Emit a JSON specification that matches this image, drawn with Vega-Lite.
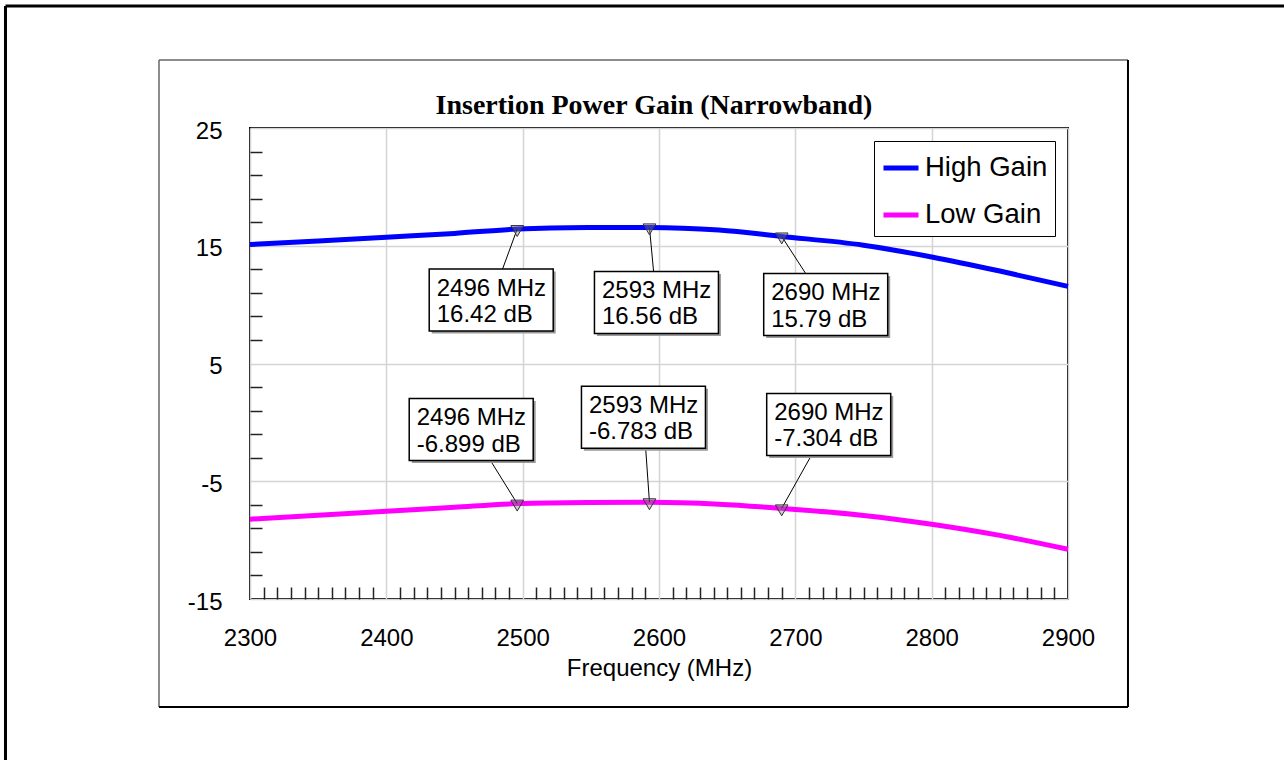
{
  "$schema": "https://vega.github.io/schema/vega-lite/v6.json",
  "width": 818,
  "height": 471,
  "autosize": {"type": "none"},
  "padding": {"left": 250, "top": 128, "right": 216, "bottom": 161},
  "background": "white",
  "datasets": {
    "curves": [
      {"series": "High Gain", "freq": 2300, "gain": 15.10},
      {"series": "High Gain", "freq": 2350, "gain": 15.40},
      {"series": "High Gain", "freq": 2400, "gain": 15.72},
      {"series": "High Gain", "freq": 2450, "gain": 16.05},
      {"series": "High Gain", "freq": 2496, "gain": 16.42},
      {"series": "High Gain", "freq": 2548, "gain": 16.55},
      {"series": "High Gain", "freq": 2593, "gain": 16.56},
      {"series": "High Gain", "freq": 2644, "gain": 16.33},
      {"series": "High Gain", "freq": 2690, "gain": 15.79},
      {"series": "High Gain", "freq": 2750, "gain": 15.05},
      {"series": "High Gain", "freq": 2800, "gain": 14.05},
      {"series": "High Gain", "freq": 2850, "gain": 12.85},
      {"series": "High Gain", "freq": 2900, "gain": 11.55},
      {"series": "Low Gain", "freq": 2300, "gain": -8.22},
      {"series": "Low Gain", "freq": 2350, "gain": -7.88},
      {"series": "Low Gain", "freq": 2400, "gain": -7.55},
      {"series": "Low Gain", "freq": 2450, "gain": -7.20},
      {"series": "Low Gain", "freq": 2496, "gain": -6.899},
      {"series": "Low Gain", "freq": 2548, "gain": -6.80},
      {"series": "Low Gain", "freq": 2593, "gain": -6.783},
      {"series": "Low Gain", "freq": 2644, "gain": -6.95},
      {"series": "Low Gain", "freq": 2690, "gain": -7.304},
      {"series": "Low Gain", "freq": 2750, "gain": -7.90},
      {"series": "Low Gain", "freq": 2800, "gain": -8.65},
      {"series": "Low Gain", "freq": 2850, "gain": -9.60},
      {"series": "Low Gain", "freq": 2900, "gain": -10.78}
    ],
    "markers": [
      {"series": "High Gain", "freq": 2496, "gain": 16.42, "label": "2496 MHz\n16.42 dB"},
      {"series": "High Gain", "freq": 2593, "gain": 16.56, "label": "2593 MHz\n16.56 dB"},
      {"series": "High Gain", "freq": 2690, "gain": 15.79, "label": "2690 MHz\n15.79 dB"},
      {"series": "Low Gain", "freq": 2496, "gain": -6.899, "label": "2496 MHz\n-6.899 dB"},
      {"series": "Low Gain", "freq": 2593, "gain": -6.783, "label": "2593 MHz\n-6.783 dB"},
      {"series": "Low Gain", "freq": 2690, "gain": -7.304, "label": "2690 MHz\n-7.304 dB"}
    ]
  },
  "title": {
    "text": "Insertion Power Gain (Narrowband)",
    "font": "Liberation Serif",
    "fontSize": 28,
    "fontWeight": "bold",
    "color": "black",
    "anchor": "middle",
    "frame": "group",
    "baseline": "alphabetic",
    "offset": 15,
    "dx": -5,
    "dy": 152
  },
  "config": {
    "view": {"stroke": "black", "strokeWidth": 2},
    "font": "Liberation Sans"
  },
  "layer": [
    {
      "encoding": {
        "x": {
          "field": "freq",
          "type": "quantitative",
          "scale": {"domain": [2300, 2900], "nice": false, "zero": false},
          "axis": {
            "orient": "bottom",
            "values": [2300,2310,2320,2330,2340,2350,2360,2370,2380,2390,2400,2410,2420,2430,2440,2450,2460,2470,2480,2490,2500,2510,2520,2530,2540,2550,2560,2570,2580,2590,2600,2610,2620,2630,2640,2650,2660,2670,2680,2690,2700,2710,2720,2730,2740,2750,2760,2770,2780,2790,2800,2810,2820,2830,2840,2850,2860,2870,2880,2890,2900],
            "tickCount": 200,
            "labelExpr": "datum.value % 100 === 0 ? '' + datum.value : ''",
            "labelFont": "Liberation Sans",
            "labelFontSize": 24,
            "labelColor": "black",
            "labelPadding": 39.5,
            "labelFlush": false,
            "labelOverlap": false,
            "labelBound": false,
            "domain": false,
            "tickSize": -12,
            "tickColor": "#222222",
            "tickWidth": 1.5,
            "tickOpacity": {"condition": {"test": "datum.value % 100 === 0", "value": 0}, "value": 1},
            "grid": true,
            "gridColor": "#d4d4d4",
            "gridWidth": 1.5,
            "gridOpacity": {"condition": {"test": "datum.value % 100 === 0", "value": 1}, "value": 0},
            "title": "Frequency (MHz)",
            "titleFont": "Liberation Sans",
            "titleFontSize": 24,
            "titleFontWeight": "normal",
            "titleColor": "black",
            "titlePadding": 6
          }
        },
        "y": {
          "field": "gain",
          "type": "quantitative",
          "scale": {"domain": [-15, 25], "nice": false, "zero": false},
          "axis": {
            "orient": "left",
            "values": [-15,-13,-11,-9,-7,-5,-3,-1,1,3,5,7,9,11,13,15,17,19,21,23,25],
            "tickCount": 200,
            "labelExpr": "(datum.value + 15) % 10 === 0 ? '' + datum.value : ''",
            "labelFont": "Liberation Sans",
            "labelFontSize": 24,
            "labelColor": "black",
            "labelPadding": 40,
            "labelOffset": 3,
            "labelFlush": false,
            "labelOverlap": false,
            "labelBound": false,
            "domain": false,
            "tickSize": -12,
            "tickColor": "#222222",
            "tickWidth": 1.5,
            "tickOpacity": {"condition": {"test": "(datum.value + 15) % 10 === 0", "value": 0}, "value": 1},
            "grid": true,
            "gridColor": "#d4d4d4",
            "gridWidth": 1.5,
            "gridOpacity": {"condition": {"test": "(datum.value + 15) % 10 === 0", "value": 1}, "value": 0},
            "title": null
          }
        }
      },
      "layer": [
        {
          "data": {"name": "curves"},
          "mark": {"type": "line", "strokeWidth": 5, "interpolate": "monotone"},
          "encoding": {
            "color": {
              "field": "series",
              "type": "nominal",
              "scale": {"domain": ["High Gain", "Low Gain"], "range": ["#0000ff", "#ff00ff"]},
              "legend": {
                "title": null,
                "orient": "top-right",
                "offset": 13,
                "padding": 7,
                "strokeColor": "black",
                "fillColor": "white",
                "labelFont": "Liberation Sans",
                "labelFontSize": 27.5,
                "labelColor": "black",
                "labelOffset": 4,
                "symbolType": "stroke",
                "symbolSize": 1225,
                "symbolStrokeWidth": 5,
                "rowPadding": 13
              }
            }
          }
        },
        {
          "data": {"name": "markers"},
          "transform": [{"filter": "datum.series === 'High Gain' && datum.freq === 2496"}],
          "layer": [
            {"mark": {"type": "rule", "color": "black", "strokeWidth": 1, "x2Offset": -26, "y2Offset": 71}, "encoding": {"x2": {"field": "freq"}, "y2": {"field": "gain"}}},
            {"mark": {"type": "point", "shape": "M-1,-0.5H1V0.5H-1Z", "size": 15376, "filled": true, "fill": "#9a9a9a", "opacity": 1, "strokeWidth": 0, "xOffset": -23.5, "yOffset": 73.5}},
            {"mark": {"type": "point", "shape": "M-1,-0.5H1V0.5H-1Z", "size": 15376, "filled": true, "fill": "white", "stroke": "black", "strokeWidth": 1.5, "opacity": 1, "xOffset": -26, "yOffset": 71}},
            {"mark": {"type": "text", "align": "left", "baseline": "middle", "lineBreak": "\n", "lineHeight": 26.6, "font": "Liberation Sans", "fontSize": 24, "color": "black", "xOffset": -80.5, "yOffset": 59.5}, "encoding": {"text": {"field": "label"}}}
          ]
        },
        {
          "data": {"name": "markers"},
          "transform": [{"filter": "datum.series === 'High Gain' && datum.freq === 2593"}],
          "layer": [
            {"mark": {"type": "rule", "color": "black", "strokeWidth": 1, "x2Offset": 7, "y2Offset": 75}, "encoding": {"x2": {"field": "freq"}, "y2": {"field": "gain"}}},
            {"mark": {"type": "point", "shape": "M-1,-0.5H1V0.5H-1Z", "size": 15376, "filled": true, "fill": "#9a9a9a", "opacity": 1, "strokeWidth": 0, "xOffset": 9.5, "yOffset": 77.5}},
            {"mark": {"type": "point", "shape": "M-1,-0.5H1V0.5H-1Z", "size": 15376, "filled": true, "fill": "white", "stroke": "black", "strokeWidth": 1.5, "opacity": 1, "xOffset": 7, "yOffset": 75}},
            {"mark": {"type": "text", "align": "left", "baseline": "middle", "lineBreak": "\n", "lineHeight": 26.6, "font": "Liberation Sans", "fontSize": 24, "color": "black", "xOffset": -47.5, "yOffset": 63.5}, "encoding": {"text": {"field": "label"}}}
          ]
        },
        {
          "data": {"name": "markers"},
          "transform": [{"filter": "datum.series === 'High Gain' && datum.freq === 2690"}],
          "layer": [
            {"mark": {"type": "rule", "color": "black", "strokeWidth": 1, "x2Offset": 44, "y2Offset": 68}, "encoding": {"x2": {"field": "freq"}, "y2": {"field": "gain"}}},
            {"mark": {"type": "point", "shape": "M-1,-0.5H1V0.5H-1Z", "size": 15376, "filled": true, "fill": "#9a9a9a", "opacity": 1, "strokeWidth": 0, "xOffset": 46.5, "yOffset": 70.5}},
            {"mark": {"type": "point", "shape": "M-1,-0.5H1V0.5H-1Z", "size": 15376, "filled": true, "fill": "white", "stroke": "black", "strokeWidth": 1.5, "opacity": 1, "xOffset": 44, "yOffset": 68}},
            {"mark": {"type": "text", "align": "left", "baseline": "middle", "lineBreak": "\n", "lineHeight": 26.6, "font": "Liberation Sans", "fontSize": 24, "color": "black", "xOffset": -10.5, "yOffset": 56.5}, "encoding": {"text": {"field": "label"}}}
          ]
        },
        {
          "data": {"name": "markers"},
          "transform": [{"filter": "datum.series === 'Low Gain' && datum.freq === 2496"}],
          "layer": [
            {"mark": {"type": "rule", "color": "black", "strokeWidth": 1, "x2Offset": -46, "y2Offset": -74}, "encoding": {"x2": {"field": "freq"}, "y2": {"field": "gain"}}},
            {"mark": {"type": "point", "shape": "M-1,-0.5H1V0.5H-1Z", "size": 15376, "filled": true, "fill": "#9a9a9a", "opacity": 1, "strokeWidth": 0, "xOffset": -43.5, "yOffset": -71.5}},
            {"mark": {"type": "point", "shape": "M-1,-0.5H1V0.5H-1Z", "size": 15376, "filled": true, "fill": "white", "stroke": "black", "strokeWidth": 1.5, "opacity": 1, "xOffset": -46, "yOffset": -74}},
            {"mark": {"type": "text", "align": "left", "baseline": "middle", "lineBreak": "\n", "lineHeight": 26.6, "font": "Liberation Sans", "fontSize": 24, "color": "black", "xOffset": -100.5, "yOffset": -85.5}, "encoding": {"text": {"field": "label"}}}
          ]
        },
        {
          "data": {"name": "markers"},
          "transform": [{"filter": "datum.series === 'Low Gain' && datum.freq === 2593"}],
          "layer": [
            {"mark": {"type": "rule", "color": "black", "strokeWidth": 1, "x2Offset": -6, "y2Offset": -85}, "encoding": {"x2": {"field": "freq"}, "y2": {"field": "gain"}}},
            {"mark": {"type": "point", "shape": "M-1,-0.5H1V0.5H-1Z", "size": 15376, "filled": true, "fill": "#9a9a9a", "opacity": 1, "strokeWidth": 0, "xOffset": -3.5, "yOffset": -82.5}},
            {"mark": {"type": "point", "shape": "M-1,-0.5H1V0.5H-1Z", "size": 15376, "filled": true, "fill": "white", "stroke": "black", "strokeWidth": 1.5, "opacity": 1, "xOffset": -6, "yOffset": -85}},
            {"mark": {"type": "text", "align": "left", "baseline": "middle", "lineBreak": "\n", "lineHeight": 26.6, "font": "Liberation Sans", "fontSize": 24, "color": "black", "xOffset": -60.5, "yOffset": -96.5}, "encoding": {"text": {"field": "label"}}}
          ]
        },
        {
          "data": {"name": "markers"},
          "transform": [{"filter": "datum.series === 'Low Gain' && datum.freq === 2690"}],
          "layer": [
            {"mark": {"type": "rule", "color": "black", "strokeWidth": 1, "x2Offset": 47, "y2Offset": -84}, "encoding": {"x2": {"field": "freq"}, "y2": {"field": "gain"}}},
            {"mark": {"type": "point", "shape": "M-1,-0.5H1V0.5H-1Z", "size": 15376, "filled": true, "fill": "#9a9a9a", "opacity": 1, "strokeWidth": 0, "xOffset": 49.5, "yOffset": -81.5}},
            {"mark": {"type": "point", "shape": "M-1,-0.5H1V0.5H-1Z", "size": 15376, "filled": true, "fill": "white", "stroke": "black", "strokeWidth": 1.5, "opacity": 1, "xOffset": 47, "yOffset": -84}},
            {"mark": {"type": "text", "align": "left", "baseline": "middle", "lineBreak": "\n", "lineHeight": 26.6, "font": "Liberation Sans", "fontSize": 24, "color": "black", "xOffset": -7.5, "yOffset": -95.5}, "encoding": {"text": {"field": "label"}}}
          ]
        },
        {
          "data": {"name": "markers"},
          "mark": {"type": "point", "shape": "triangle-down", "size": 160, "filled": true, "fill": "#808080", "fillOpacity": 0.4, "stroke": "#333333", "strokeWidth": 1, "opacity": 1, "yOffset": 2}
        }
      ]
    },
    {
      "data": {"values": [{}]},
      "mark": {"type": "rule", "color": "black", "strokeWidth": 3},
      "encoding": {
        "x": {"datum": 2120.66, "type": "quantitative", "scale": {"domain": [2300, 2900], "nice": false, "zero": false}},
        "x2": {"datum": 3062.8},
        "y": {"datum": 35.36, "type": "quantitative", "scale": {"domain": [-15, 25], "nice": false, "zero": false}}
      }
    },
    {
      "data": {"values": [{}]},
      "mark": {"type": "rule", "color": "black", "strokeWidth": 3},
      "encoding": {
        "x": {"datum": 2120.66, "type": "quantitative", "scale": {"domain": [2300, 2900], "nice": false, "zero": false}},
        "y": {"datum": 35.36, "type": "quantitative", "scale": {"domain": [-15, 25], "nice": false, "zero": false}},
        "y2": {"datum": -29.5}
      }
    },
    {
      "data": {"values": [{}]},
      "mark": {"type": "rule", "color": "#666666", "strokeWidth": 1.5},
      "encoding": {
        "x": {"datum": 2233.25, "type": "quantitative", "scale": {"domain": [2300, 2900], "nice": false, "zero": false}},
        "x2": {"datum": 2944.0},
        "y": {"datum": 30.775, "type": "quantitative", "scale": {"domain": [-15, 25], "nice": false, "zero": false}}
      }
    },
    {
      "data": {"values": [{}]},
      "mark": {"type": "rule", "color": "#666666", "strokeWidth": 1.5},
      "encoding": {
        "x": {"datum": 2233.25, "type": "quantitative", "scale": {"domain": [2300, 2900], "nice": false, "zero": false}},
        "y": {"datum": 30.775, "type": "quantitative", "scale": {"domain": [-15, 25], "nice": false, "zero": false}},
        "y2": {"datum": -24.17}
      }
    },
    {
      "data": {"values": [{}]},
      "mark": {"type": "rule", "color": "black", "strokeWidth": 2},
      "encoding": {
        "x": {"datum": 2944.0, "type": "quantitative", "scale": {"domain": [2300, 2900], "nice": false, "zero": false}},
        "y": {"datum": 30.775, "type": "quantitative", "scale": {"domain": [-15, 25], "nice": false, "zero": false}},
        "y2": {"datum": -24.17}
      }
    },
    {
      "data": {"values": [{}]},
      "mark": {"type": "rule", "color": "black", "strokeWidth": 2},
      "encoding": {
        "x": {"datum": 2233.25, "type": "quantitative", "scale": {"domain": [2300, 2900], "nice": false, "zero": false}},
        "x2": {"datum": 2944.0},
        "y": {"datum": -24.17, "type": "quantitative", "scale": {"domain": [-15, 25], "nice": false, "zero": false}}
      }
    }
  ]
}
